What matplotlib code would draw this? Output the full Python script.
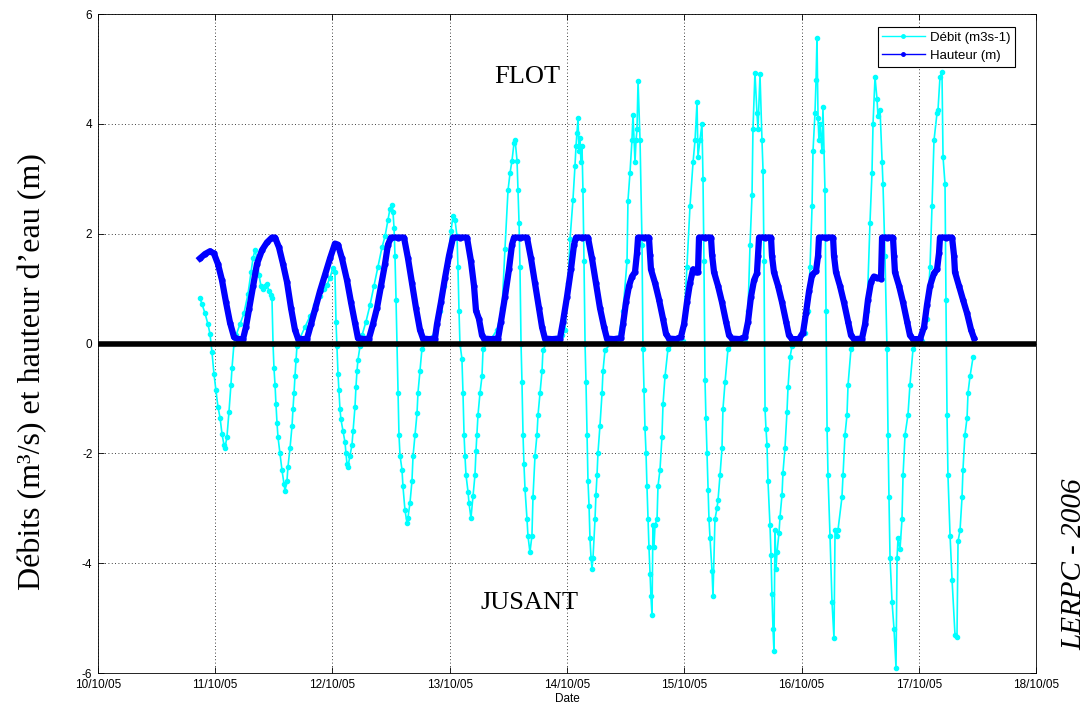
import numpy as np
import matplotlib.pyplot as plt
from matplotlib.lines import Line2D

# time in days of October 2005 (10.5 = 10/10/05 12:00)
hauteur_t = [
    10.870, 10.913, 10.955, 10.989, 11.023, 11.058, 11.092, 11.126, 11.160, 11.194, 11.237,
    11.262, 11.288, 11.322, 11.356, 11.399, 11.441, 11.484, 11.510, 11.544, 11.578, 11.612,
    11.646, 11.680, 11.706, 11.748, 11.783,
    11.817, 11.851, 11.893, 11.936, 11.979, 12.021, 12.047, 12.081, 12.124, 12.158, 12.192,
    12.217, 12.269, 12.311,
    12.345, 12.380, 12.414, 12.448, 12.473, 12.499, 12.559, 12.610, 12.644, 12.678, 12.712,
    12.746, 12.772, 12.823, 12.874,
    12.891, 12.925, 12.960, 12.994, 13.028, 13.087, 13.147, 13.181, 13.207, 13.224, 13.249,
    13.275, 13.292, 13.352, 13.412,
    13.437, 13.471, 13.505, 13.531, 13.548, 13.599, 13.659, 13.693, 13.727, 13.761, 13.787,
    13.812, 13.872, 13.940,
    13.966, 14.000, 14.034, 14.060, 14.077, 14.128, 14.179, 14.213, 14.247, 14.281, 14.316,
    14.341, 14.401, 14.461,
    14.478, 14.503, 14.529, 14.554, 14.580, 14.597, 14.606, 14.657, 14.699, 14.708, 14.716,
    14.751, 14.785, 14.819, 14.844, 14.870, 14.930, 14.972,
    14.998, 15.023, 15.049, 15.075, 15.100, 15.117, 15.126, 15.177, 15.228, 15.237, 15.254,
    15.288, 15.322, 15.356, 15.382, 15.407, 15.475, 15.518,
    15.544, 15.569, 15.595, 15.620, 15.629, 15.638, 15.689, 15.740, 15.748, 15.765, 15.800,
    15.834, 15.868, 15.893, 15.919, 15.979,
    16.013, 16.038, 16.064, 16.090, 16.124, 16.141, 16.149, 16.209, 16.269, 16.277, 16.294,
    16.328, 16.362, 16.397, 16.422, 16.448, 16.516,
    16.542, 16.567, 16.593, 16.618, 16.644, 16.678, 16.687, 16.729, 16.780, 16.789, 16.797,
    16.832, 16.866, 16.900, 16.925, 16.951, 17.011,
    17.045, 17.070, 17.096, 17.130, 17.156, 17.173, 17.181, 17.232, 17.284, 17.301, 17.309,
    17.343, 17.377, 17.412, 17.446, 17.471,
]
hauteur_m = [
    1.55, 1.63, 1.68, 1.64, 1.45, 1.15, 0.75, 0.38, 0.12, 0.08, 0.08,
    0.30, 0.62, 1.05, 1.45, 1.70, 1.84, 1.93, 1.93, 1.75, 1.45, 1.12, 0.65, 0.25, 0.09, 0.08, 0.09,
    0.35, 0.62, 0.95, 1.25, 1.55, 1.82, 1.80, 1.55, 1.15, 0.75, 0.38, 0.10, 0.08, 0.09,
    0.35, 0.65, 1.05, 1.45, 1.80, 1.93, 1.93, 1.93, 1.55, 1.10, 0.65, 0.25, 0.09, 0.08, 0.09,
    0.35, 0.75, 1.20, 1.60, 1.93, 1.93, 1.93, 1.50, 1.05, 0.60, 0.45, 0.15, 0.09, 0.08, 0.09,
    0.40, 0.85, 1.35, 1.80, 1.93, 1.93, 1.93, 1.55, 1.10, 0.65, 0.30, 0.09, 0.08, 0.09,
    0.40, 0.85, 1.35, 1.80, 1.93, 1.93, 1.93, 1.55, 1.10, 0.65, 0.30, 0.09, 0.08, 0.10,
    0.35, 0.75, 1.05, 1.22, 1.30, 1.65, 1.93, 1.93, 1.93, 1.62, 1.35, 1.10, 0.80, 0.45, 0.18,
    0.09, 0.08, 0.12,
    0.35, 0.75, 1.10, 1.35, 1.30, 1.30, 1.93, 1.93, 1.93, 1.62, 1.30, 1.05, 0.75, 0.40, 0.15,
    0.09, 0.08, 0.12,
    0.40, 0.85, 1.15, 1.28, 1.60, 1.93, 1.93, 1.93, 1.60, 1.30, 1.05, 0.75, 0.40, 0.15, 0.08, 0.08,
    0.20, 0.55, 0.95, 1.25, 1.32, 1.60, 1.93, 1.93, 1.93, 1.60, 1.30, 1.05, 0.75, 0.40, 0.15,
    0.08, 0.09,
    0.35, 0.80, 1.12, 1.22, 1.20, 1.18, 1.93, 1.93, 1.93, 1.60, 1.30, 1.05, 0.75, 0.40, 0.15,
    0.08, 0.08,
    0.30, 0.70, 1.05, 1.28, 1.35, 1.65, 1.93, 1.93, 1.93, 1.60, 1.30, 1.05, 0.80, 0.55, 0.25, 0.10,
]

debit_t = [
    10.870, 10.887, 10.913, 10.938, 10.955, 10.972, 10.989, 11.006, 11.023, 11.041, 11.058,
    11.075, 11.083, 11.100, 11.117, 11.134, 11.143, 11.160, 11.177, 11.211, 11.245, 11.279,
    11.305, 11.322, 11.339, 11.356, 11.373, 11.390, 11.407, 11.424, 11.441, 11.458, 11.476,
    11.484, 11.493,
    11.501, 11.510, 11.518, 11.527, 11.535, 11.552, 11.569, 11.586, 11.595, 11.612, 11.620,
    11.638, 11.655, 11.663, 11.672, 11.680, 11.689, 11.697,
    11.723, 11.765, 11.808, 11.851, 11.893, 11.928, 11.953, 11.979, 12.004, 12.021, 12.030,
    12.038, 12.047, 12.055, 12.064, 12.072, 12.090, 12.107, 12.115, 12.124, 12.132, 12.149,
    12.166, 12.175, 12.192, 12.200, 12.209, 12.217, 12.235,
    12.252, 12.286, 12.320, 12.354, 12.388, 12.422, 12.448, 12.473, 12.490, 12.508, 12.516,
    12.525, 12.533, 12.542, 12.550, 12.559, 12.567, 12.576, 12.593, 12.601, 12.618, 12.635,
    12.644, 12.661, 12.678, 12.687, 12.704, 12.721, 12.729, 12.746, 12.763,
    12.815, 12.874, 12.917, 12.951, 12.985, 13.011, 13.028, 13.045, 13.062, 13.070, 13.079,
    13.087, 13.104, 13.113, 13.122, 13.130, 13.139, 13.156, 13.164, 13.181, 13.198, 13.215,
    13.224, 13.232, 13.241, 13.258, 13.275, 13.284,
    13.343, 13.403, 13.446, 13.471, 13.497, 13.514, 13.531, 13.548, 13.557, 13.574, 13.582,
    13.591, 13.599, 13.608, 13.616, 13.625, 13.633, 13.642, 13.659, 13.667, 13.684, 13.701,
    13.710, 13.727, 13.744, 13.753, 13.770, 13.787, 13.795,
    13.838, 13.906, 13.957, 13.983, 14.009, 14.026, 14.051, 14.068, 14.077, 14.085, 14.094,
    14.102, 14.111, 14.119, 14.128, 14.136, 14.145, 14.154, 14.162, 14.171, 14.179, 14.188,
    14.196, 14.205, 14.213, 14.222, 14.239, 14.247, 14.256, 14.264, 14.281, 14.299, 14.307,
    14.324,
    14.384, 14.435, 14.478, 14.512, 14.520, 14.537, 14.554, 14.563, 14.580, 14.589, 14.597,
    14.606, 14.623, 14.640, 14.648, 14.657, 14.665, 14.674, 14.682, 14.691, 14.699, 14.708,
    14.716, 14.725, 14.733, 14.742, 14.751, 14.768, 14.776, 14.793, 14.810, 14.819, 14.836,
    14.861,
    14.930, 14.989, 15.023, 15.049, 15.075, 15.092, 15.109, 15.117, 15.134, 15.151, 15.160,
    15.168, 15.177, 15.185, 15.194, 15.203, 15.211, 15.220, 15.237, 15.245, 15.262, 15.279,
    15.288, 15.305, 15.322, 15.330, 15.348, 15.373,
    15.441, 15.518, 15.544, 15.561, 15.578, 15.586, 15.603, 15.620, 15.629, 15.646, 15.663,
    15.672, 15.680, 15.689, 15.697, 15.706, 15.714, 15.731, 15.740, 15.748, 15.757, 15.765,
    15.774, 15.783, 15.791, 15.808, 15.817, 15.834, 15.842, 15.859, 15.876, 15.885, 15.902,
    15.919,
    15.987, 16.030, 16.055, 16.073, 16.090, 16.098, 16.115, 16.124, 16.132, 16.141, 16.149,
    16.158, 16.175, 16.183, 16.200, 16.209, 16.218, 16.226, 16.243, 16.260, 16.277, 16.286,
    16.303, 16.311, 16.345, 16.354, 16.371, 16.388, 16.397, 16.422,
    16.482, 16.516, 16.559, 16.584, 16.601, 16.610, 16.627, 16.644, 16.652, 16.670, 16.687,
    16.695, 16.712, 16.729, 16.738, 16.746, 16.755, 16.772, 16.789, 16.806, 16.815, 16.823,
    16.840, 16.857, 16.866, 16.883, 16.908, 16.925, 16.951,
    16.994, 17.028, 17.070, 17.096, 17.113, 17.130, 17.156, 17.164, 17.181, 17.198, 17.207,
    17.224, 17.232, 17.241, 17.249, 17.267, 17.284, 17.309, 17.326, 17.335, 17.352, 17.369,
    17.377, 17.394, 17.412, 17.420, 17.437, 17.463,
]
debit_q = [
    0.82, 0.72, 0.55, 0.35, 0.18, -0.15, -0.55, -0.85, -1.15, -1.35, -1.65,
    -1.85, -1.90, -1.70, -1.25, -0.75, -0.45, 0.00, 0.15, 0.35, 0.55, 0.90,
    1.30, 1.55, 1.70, 1.55, 1.25, 1.05, 1.00, 1.05, 1.08, 0.95, 0.88,
    0.82, 0.00,
    -0.45, -0.75, -1.10, -1.45, -1.70, -2.00, -2.30, -2.55, -2.68, -2.50, -2.25,
    -1.90, -1.50, -1.20, -0.90, -0.60, -0.30, -0.05,
    0.10, 0.30, 0.50, 0.70, 0.86, 1.00, 1.07, 1.20, 1.38, 1.30, 0.40,
    -0.05, -0.55, -0.84, -1.20, -1.38, -1.60, -1.80, -2.00, -2.20, -2.24, -2.05,
    -1.85, -1.60, -1.15, -0.80, -0.50, -0.30, -0.05,
    0.15, 0.40, 0.70, 1.05, 1.40, 1.75, 1.95, 2.25, 2.45, 2.52, 2.40,
    2.10, 1.60, 0.80, 0.00, -0.90, -1.66, -2.04, -2.30, -2.60, -3.03, -3.26,
    -3.17, -2.90, -2.50, -2.05, -1.66, -1.27, -0.90, -0.50, -0.10,
    0.05, 0.20, 0.60, 1.05, 1.55, 2.05, 2.33, 2.25, 1.95, 1.40, 0.60,
    0.00, -0.28, -0.90, -1.66, -2.05, -2.40, -2.70, -2.90, -3.18, -2.78, -2.40,
    -1.95, -1.66, -1.30, -0.90, -0.60, -0.10,
    0.05, 0.25, 0.64, 1.72, 2.79, 3.10, 3.33, 3.65, 3.71, 3.33, 2.79,
    2.20, 1.40, 0.00, -0.70, -1.66, -2.20, -2.65, -3.20, -3.50, -3.80, -3.50,
    -2.80, -2.05, -1.66, -1.30, -0.90, -0.50, -0.12,
    0.05, 0.10, 0.15, 0.25, 1.10, 1.90, 2.62, 3.23, 3.60, 3.84, 4.10,
    3.50, 3.75, 3.30, 3.60, 2.80, 1.50, 0.00, -0.70, -1.66, -2.50, -2.95,
    -3.55, -3.90, -4.10, -3.90, -3.20, -2.75, -2.40, -2.00, -1.50, -0.90, -0.50,
    -0.12,
    0.02, 0.05, 0.60, 1.50, 2.60, 3.10, 3.70, 4.17, 3.30, 3.70, 3.90,
    4.78, 3.70, 1.80, -0.10, -0.84, -1.53, -1.99, -2.60, -3.20, -3.70, -4.20,
    -4.60, -4.95, -3.30, -3.70, -3.30, -3.20, -2.60, -2.30, -1.70, -1.10, -0.60,
    -0.10,
    0.02, 0.05, 1.40, 2.50, 3.30, 3.70, 4.40, 3.40, 3.70, 4.00, 3.00,
    1.50, -0.66, -1.35, -2.00, -2.66, -3.20, -3.55, -4.15, -4.60, -3.20, -3.00,
    -2.85, -2.40, -1.90, -1.20, -0.70, -0.10,
    0.03, 0.05, 0.60, 1.80, 2.70, 3.90, 4.93, 4.20, 3.90, 4.90, 3.70,
    3.15, 1.50, -1.20, -1.55, -1.85, -2.50, -3.30, -3.85, -4.57, -5.20, -5.60,
    -3.40, -4.10, -3.80, -3.45, -3.15, -2.75, -2.35, -1.90, -1.25, -0.80, -0.25,
    -0.05,
    0.02, 0.20, 0.60, 1.40, 2.50, 3.50, 4.20, 4.80, 5.57, 4.10, 3.70,
    4.00, 3.50, 4.30, 2.80, 0.60, -1.55, -2.40, -3.50, -4.70, -5.37, -3.40,
    -3.50, -3.40, -2.80, -2.40, -1.66, -1.30, -0.75, -0.10,
    0.03, 0.05, 0.60, 2.20, 3.10, 4.00, 4.85, 4.45, 4.15, 4.25, 3.30,
    2.90, 1.60, -0.10, -1.66, -2.80, -3.90, -4.70, -5.20, -5.90, -3.90, -3.55,
    -3.75, -3.20, -2.40, -1.66, -1.30, -0.75, -0.10,
    0.02, 0.05, 0.45, 1.40, 2.50, 3.70, 4.20, 4.25, 4.85, 4.95, 3.40,
    2.90, 0.80, -1.30, -2.40, -3.50, -4.30, -5.30, -5.35, -3.60, -3.40, -2.80,
    -2.30, -1.66, -1.35, -0.90, -0.60, -0.25,
]

days = [10, 11, 12, 13, 14, 15, 16, 17, 18]
day_labels = ['%d/10/05' % d for d in days]
yticks = [-6, -4, -2, 0, 2, 4, 6]

cyan = (0, 1, 1)
blue = (0, 0, 1)
sans = 'Liberation Sans'
serif = 'Liberation Serif'

fig = plt.figure(figsize=(10.91, 7.08), dpi=100)
ax = fig.add_axes([0.0898, 0.0494, 0.8598, 0.9308])

ax.plot(debit_t, debit_q, '-', color=cyan, lw=1.2, marker='.', ms=6, zorder=2)
ax.plot(hauteur_t, hauteur_m, '-', color=blue, lw=4.5, marker='.', ms=7, zorder=3)
ax.axhline(0, color='black', lw=4, zorder=4)

ax.set_xlim(10, 18)
ax.set_ylim(-6, 6)
ax.set_xticks(days)
ax.set_xticklabels(day_labels, fontname=sans, fontsize=8.5)
ax.set_yticks(yticks)
ax.set_yticklabels([str(v) for v in yticks], fontname=sans, fontsize=8.5)
ax.tick_params(direction='in', length=4, width=0.6, top=True, right=True, pad=4)
ax.grid(True, color='black', linestyle=(0, (1, 3)), lw=0.6)
for s in ax.spines.values():
    s.set_linewidth(0.6)

ax.set_xlabel('Date', fontname=sans, fontsize=8.5, labelpad=2)
ax.set_ylabel('Débits (m³/s) et hauteur d’eau (m)', fontname=serif, fontsize=23)
ax.yaxis.set_label_coords(-0.054, 0.457)

ax.text(13.66, 4.86, 'FLOT', fontname=serif, fontsize=19, ha='center', va='center')
ax.text(13.68, -4.73, 'JUSANT', fontname=serif, fontsize=19, ha='center', va='center')
fig.text(0.985, 0.203, 'LERPC - 2006', fontname=serif, fontstyle='italic', fontsize=21,
         rotation=90, ha='center', va='center')

handles = [
    Line2D([], [], color=cyan, lw=1, marker='.', ms=5),
    Line2D([], [], color=blue, lw=1, marker='.', ms=5),
]
leg = ax.legend(handles, ['Débit (m3s-1)', 'Hauteur (m)'], loc='upper right',
                bbox_to_anchor=(0.9776, 0.9803),
                prop={'family': sans, 'size': 9.5}, handlelength=3.2, numpoints=1,
                fancybox=False, framealpha=1, edgecolor='black', borderaxespad=0,
                labelspacing=0.45, handletextpad=0.4, borderpad=0.35)
leg.get_frame().set_linewidth(0.8)

fig.savefig('out.png', dpi=100)
